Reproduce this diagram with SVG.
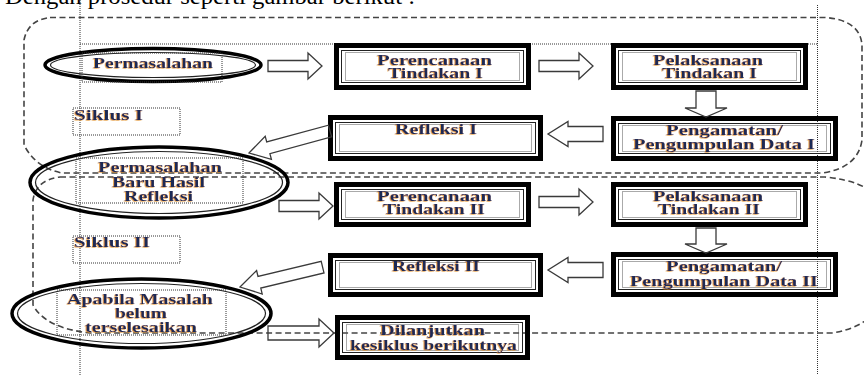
<svg xmlns="http://www.w3.org/2000/svg" width="864" height="375" viewBox="0 0 864 375">
<defs>
<filter id="sh" x="-5%" y="-30%" width="110%" height="160%">
<feDropShadow dx="-0.8" dy="0.6" stdDeviation="0.3" flood-color="#e08a1e" flood-opacity="0.95"/>
</filter>
<path id="arrR" d="M0,-5.5 H40 V-13 L54,0 L40,13 V5.5 H0 Z"/>
</defs>
<style>
.lbl{font-family:"Liberation Serif","Times New Roman",serif;font-weight:bold;font-size:14px;fill:#1b2a55;filter:url(#sh)}
.top{font-family:"Liberation Serif","Times New Roman",serif;font-size:24px;fill:#000}
.big{fill:none;stroke:#444;stroke-width:1.6;stroke-dasharray:6 3.5}
.dot{fill:none;stroke:#333;stroke-width:1;stroke-dasharray:1 1}
.bo{fill:none;stroke:#000;stroke-width:5}
.bi{fill:none;stroke:#222;stroke-width:1}
.bd{fill:none;stroke:#555;stroke-width:1;stroke-dasharray:1 1}
.eo{fill:none;stroke:#000;stroke-width:3.5}
.ei{fill:none;stroke:#222;stroke-width:1.2}
.arr{fill:none;stroke:#3a3a3a;stroke-width:1.3;stroke-linejoin:miter}
</style>

<text class="top" x="5" y="4" textLength="410" lengthAdjust="spacingAndGlyphs">Dengan prosedur seperti gambar berikut :</text>

<g id="frames">
<path class="big" d="M50,17.5 L825,17.5 Q860,20 862,45 L862,140 Q858,168 822,173 L62,173 Q36,168 24,145 L24,40 Q28,20 50,17.5 Z"/>
<path class="big" d="M60,177 L825,177 Q866,181 880,200 L880,305 Q866,328 832,333 L90,333 Q45,328 33,305 L33,200 Q36,180 60,177 Z"/>
<line class="dot" x1="80" y1="0" x2="80" y2="375"/>
<line class="dot" x1="817.5" y1="5" x2="817.5" y2="375"/>
<line class="dot" x1="80" y1="44" x2="818" y2="44"/>
</g>

<g id="siklus1">
<rect class="dot" x="73" y="108" width="107" height="27"/>
<text class="lbl" x="74" y="119.5" textLength="69" lengthAdjust="spacingAndGlyphs">Siklus I</text>
</g>
<g id="siklus2">
<rect class="dot" x="73" y="236" width="107" height="27"/>
<text class="lbl" x="74" y="247" textLength="76" lengthAdjust="spacingAndGlyphs">Siklus II</text>
</g>

<g id="permasalahan">
<ellipse class="eo" cx="153" cy="65" rx="108" ry="16.5"/>
<ellipse class="ei" cx="153" cy="65" rx="102.5" ry="12.5"/>
<rect class="dot" x="82" y="53" width="140" height="29"/>
<text class="lbl" x="93" y="68" textLength="120" lengthAdjust="spacingAndGlyphs">Permasalahan</text>
</g>

<g id="perencanaan1">
<rect class="bo" x="336.5" y="45.5" width="192" height="42"/>
<rect class="bi" x="341.5" y="50.5" width="182" height="32"/>
<rect class="bd" x="345.5" y="52.5" width="174" height="28"/>
<text class="lbl" x="377" y="64.5" textLength="115" lengthAdjust="spacingAndGlyphs">Perencanaan</text>
<text class="lbl" x="388" y="77.5" textLength="95" lengthAdjust="spacingAndGlyphs">Tindakan I</text>
</g>

<g id="pelaksanaan1">
<rect class="bo" x="613.5" y="45.5" width="192" height="42"/>
<rect class="bi" x="618.5" y="50.5" width="182" height="32"/>
<rect class="bd" x="622.5" y="52.5" width="174" height="28"/>
<text class="lbl" x="653" y="64.5" textLength="110" lengthAdjust="spacingAndGlyphs">Pelaksanaan</text>
<text class="lbl" x="662" y="77.5" textLength="95" lengthAdjust="spacingAndGlyphs">Tindakan I</text>
</g>

<g id="pengamatan1">
<rect class="bo" x="613.5" y="118.5" width="222" height="40"/>
<rect class="bi" x="618.5" y="123.5" width="212" height="30"/>
<rect class="bd" x="622.5" y="125.5" width="204" height="26"/>
<text class="lbl" x="666" y="134.5" textLength="117" lengthAdjust="spacingAndGlyphs">Pengamatan/</text>
<text class="lbl" x="633" y="148.5" textLength="182" lengthAdjust="spacingAndGlyphs">Pengumpulan Data I</text>
</g>

<g id="refleksi1">
<rect class="bo" x="330.5" y="117.5" width="210" height="41"/>
<rect class="bi" x="335.5" y="122.5" width="200" height="31"/>
<rect class="bd" x="339.5" y="124.5" width="192" height="27"/>
<text class="lbl" x="395" y="133.5" textLength="82" lengthAdjust="spacingAndGlyphs">Refleksi I</text>
</g>

<g id="permasalahanBaru">
<ellipse class="eo" cx="159" cy="182.5" rx="129" ry="35.5"/>
<ellipse class="ei" cx="159" cy="182.5" rx="123.5" ry="31"/>
<rect class="dot" x="76" y="158" width="167" height="45"/>
<text class="lbl" x="98" y="171.5" textLength="124" lengthAdjust="spacingAndGlyphs">Permasalahan</text>
<text class="lbl" x="112" y="186.5" textLength="93" lengthAdjust="spacingAndGlyphs">Baru Hasil</text>
<text class="lbl" x="124" y="200.5" textLength="69" lengthAdjust="spacingAndGlyphs">Refleksi</text>
</g>

<g id="perencanaan2">
<rect class="bo" x="336.5" y="184.5" width="192" height="40"/>
<rect class="bi" x="341.5" y="189.5" width="182" height="30"/>
<rect class="bd" x="345.5" y="191.5" width="174" height="26"/>
<text class="lbl" x="377" y="200.5" textLength="115" lengthAdjust="spacingAndGlyphs">Perencanaan</text>
<text class="lbl" x="383" y="213.5" textLength="102" lengthAdjust="spacingAndGlyphs">Tindakan II</text>
</g>

<g id="pelaksanaan2">
<rect class="bo" x="613.5" y="184.5" width="192" height="40"/>
<rect class="bi" x="618.5" y="189.5" width="182" height="30"/>
<rect class="bd" x="622.5" y="191.5" width="174" height="26"/>
<text class="lbl" x="653" y="200.5" textLength="110" lengthAdjust="spacingAndGlyphs">Pelaksanaan</text>
<text class="lbl" x="658" y="214" textLength="102" lengthAdjust="spacingAndGlyphs">Tindakan II</text>
</g>

<g id="pengamatan2">
<rect class="bo" x="613.5" y="254.5" width="222" height="40"/>
<rect class="bi" x="618.5" y="259.5" width="212" height="30"/>
<rect class="bd" x="622.5" y="261.5" width="204" height="26"/>
<text class="lbl" x="666" y="270.5" textLength="116" lengthAdjust="spacingAndGlyphs">Pengamatan/</text>
<text class="lbl" x="630" y="285.5" textLength="188" lengthAdjust="spacingAndGlyphs">Pengumpulan Data II</text>
</g>

<g id="refleksi2">
<rect class="bo" x="330.5" y="255.5" width="210" height="39"/>
<rect class="bi" x="335.5" y="260.5" width="200" height="29"/>
<rect class="bd" x="339.5" y="262.5" width="192" height="25"/>
<text class="lbl" x="392" y="270.5" textLength="88" lengthAdjust="spacingAndGlyphs">Refleksi II</text>
</g>

<g id="apabila">
<ellipse class="eo" cx="141.5" cy="313.5" rx="129.5" ry="34.5"/>
<ellipse class="ei" cx="141.5" cy="313.5" rx="124" ry="30"/>
<rect class="dot" x="57" y="290" width="169" height="45"/>
<text class="lbl" x="67" y="303.5" textLength="146" lengthAdjust="spacingAndGlyphs">Apabila Masalah</text>
<text class="lbl" x="115" y="317.5" textLength="52" lengthAdjust="spacingAndGlyphs">belum</text>
<text class="lbl" x="85" y="331.5" textLength="112" lengthAdjust="spacingAndGlyphs">terselesaikan</text>
</g>

<g id="dilanjutkan">
<rect class="bo" x="337.5" y="317.5" width="190" height="40"/>
<rect class="bi" x="342.5" y="322.5" width="180" height="30"/>
<rect class="bd" x="346.5" y="324.5" width="172" height="26"/>
<text class="lbl" x="380" y="334.5" textLength="105" lengthAdjust="spacingAndGlyphs">Dilanjutkan</text>
<text class="lbl" x="350" y="349.5" textLength="167" lengthAdjust="spacingAndGlyphs">kesiklus berikutnya</text>
</g>

<g id="connectors">
<use href="#arrR" class="arr" transform="translate(268,66)"/>
<use href="#arrR" class="arr" transform="translate(539,66)"/>
<path class="arr" d="M696,91 V108 H685 L706,117 L727,108 H716 V91 Z"/>
<path class="arr" d="M603,126.5 H568 V121.5 L548,134 L568,146.5 V141.5 H603 Z"/>
<path class="arr" d="M249,153 L265.2,136.2 L266.7,142 L328.4,125.2 L331.6,136.8 L269.9,153.6 L271.4,159.4 Z"/>
<use href="#arrR" class="arr" transform="translate(279,206)"/>
<use href="#arrR" class="arr" transform="translate(539,202)"/>
<path class="arr" d="M696,228 V244 H685 L706,253 L727,244 H716 V228 Z"/>
<path class="arr" d="M603,262.5 H568 V257.5 L548,270 L568,282.5 V277.5 H603 Z"/>
<path class="arr" d="M240,287 L256.6,270.6 L258,276.5 L321.2,261.3 L324,272.9 L260.8,288.1 L262.2,294 Z"/>
<path class="arr" d="M268,326 H319 V319 L334,333 L319,347 V340 H268 Z"/>
</g>
</svg>
